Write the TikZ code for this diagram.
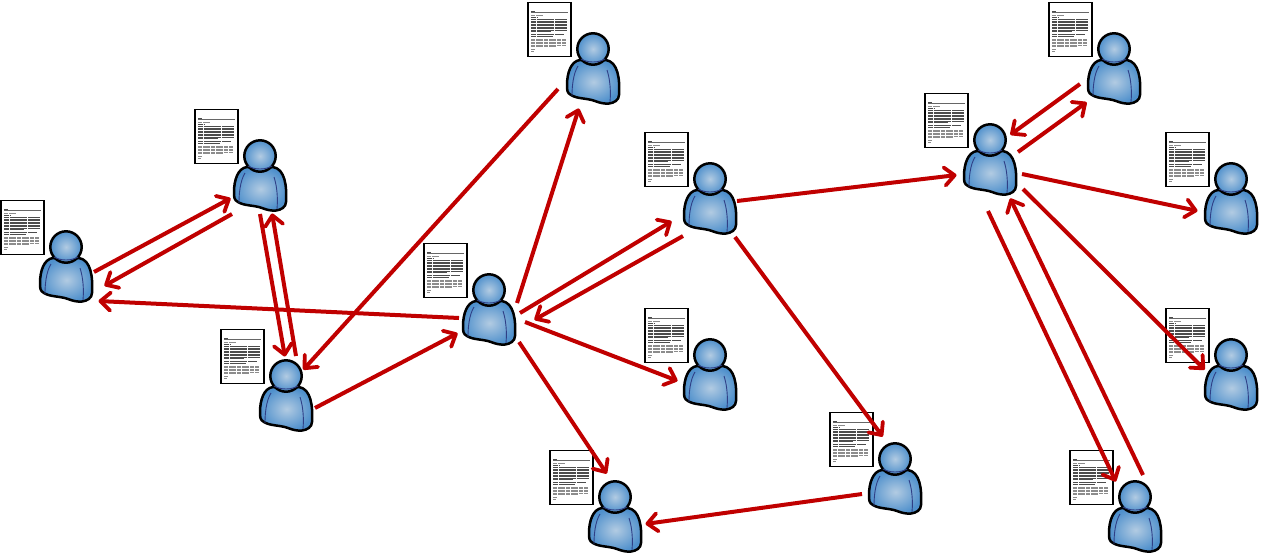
\documentclass[tikz,border=0pt]{standalone}
\usetikzlibrary{arrows.meta}
\definecolor{flowred}{HTML}{C00000}
\definecolor{skin}{HTML}{B2CBE2}
\definecolor{skinout}{HTML}{4F90CC}
\definecolor{seam}{HTML}{2F3F86}
\tikzset{
  flow/.style={draw=flowred,line width=4pt,-{Straight Barb[length=10pt,width=18pt,line width=3.8pt,round]},shorten >=.5pt},
  personbox/.style={inner sep=0pt,minimum size=1pt},
  paper/.style={draw=black,fill=white,line width=1.6pt},
  txt/.style={draw=black!70,line width=.95pt,dash pattern=on 5pt off .5pt on 9pt off .4pt on 3pt off .5pt},
  txtl/.style={draw=black!45,line width=.7pt,dash pattern=on 4pt off 1pt on 7pt off 1pt},
  outline/.style={draw=black,line width=2.5pt,line join=round},
  seamline/.style={draw=seam,line width=.9pt},
  person/.pic={
    % document
    \path[paper] (-65,-46.5) rectangle (-22,7.5);
    \draw[line width=.9pt,black!70] (-62,-38) -- (-58,-38);
    \draw[line width=.5pt,black!60] (-62,-36.5) -- (-25,-36.5);
    \draw[txtl] (-62,-33.5) -- (-50,-33.5);
    \draw[txt] (-62,-31.5) -- (-55,-31.5);
    \foreach \yy in {-29.5,-28,-26.5,-25,-23.5,-22,-20.5,-19}
      \draw[txt] (-62,\yy) -- (-26,\yy);
    \draw[txt] (-62,-17.5) -- (-42,-17.5);
    \draw[txt] (-62,-14.5) -- (-29,-14.5);
    \draw[txt] (-62,-13) -- (-40,-13);
    \foreach \yy in {-10,-8.5,-7,-5.5,-4}
      \draw[txtl] (-62,\yy) -- (-27,\yy);
    \draw[txtl] (-62,-2.5) -- (-37,-2.5);
    \draw[txtl] (-62,0) -- (-58,0);
    \draw[txtl] (-62,2) -- (-59,2);
    % body
    \path[outline,inner color=skin,outer color=skinout]
      (-13,11) .. controls (-22,12) and (-26,24) .. (-26,36)
      .. controls (-26,41) and (-26,44) .. (-22,46)
      .. controls (-16,50) and (-6,49) .. (2,52)
      .. controls (7,54) and (12,55) .. (16,54.5)
      .. controls (21,54) and (26,51) .. (26,46)
      .. controls (27,30) and (25,13) .. (13,11) -- cycle;
    \draw[seamline] (-15,17) .. controls (-20,25) and (-21,38) .. (-21,47);
    \draw[seamline] (14,21) .. controls (17,30) and (18,42) .. (17,53);
    % head
    \path[outline,inner color=skin,outer color=skinout] (0,0) circle (15.7);
    \draw[seamline] (-12,10) .. controls (-5,14) and (5,14) .. (12,10);
  }
}
\begin{document}
\begin{tikzpicture}[x=1pt,y=-1pt]
\useasboundingbox (0,0) rectangle (1261,555);
\foreach \n/\x/\y in {p1/66/247,p2/260/156,p3/286/376,p4/489/290,p5/593/49,p6/710/179,p7/710/355,p8/615/497,p9/895/459,p10/990/140,p11/1114/49,p12/1231/179,p13/1231/355,p14/1135/497}{
  \node[personbox] (\n) at (\x,\y) {};
  \pic at (\x,\y) {person};
}
\newcommand{\conn}[4]{\draw[flow] ([shift={(#2)}]#1.center) -- ([shift={(#4)}]#3.center);}
\conn{p1}{28,25}{p2}{-29,42}
\conn{p2}{-28,58}{p1}{38,39}
\conn{p2}{0,58}{p3}{-1,-19}
\conn{p3}{10,-20}{p2}{12,57}
\conn{p4}{-30,28}{p1}{32,54}
\conn{p3}{29,32}{p4}{-31,43}
\conn{p5}{-35,40}{p3}{17,-6}
\conn{p4}{28,13}{p5}{-14,59}
\conn{p4}{31,23}{p6}{-38,42}
\conn{p6}{-27,57}{p4}{45,30}
\conn{p4}{36,32}{p7}{-32,26}
\conn{p4}{30,52}{p8}{-8,-23}
\conn{p6}{25,58}{p9}{-12,-22}
\conn{p9}{-33,35}{p8}{30,27}
\conn{p6}{27,22}{p10}{-33,35}
\conn{p10}{28,12}{p11}{-27,53}
\conn{p11}{-34,35}{p10}{20,-5}
\conn{p10}{32,34}{p12}{-33,32}
\conn{p10}{33,49}{p13}{-26,15}
\conn{p10}{-2,71}{p14}{-19,-15}
\conn{p14}{8,-22}{p10}{20,58}
\end{tikzpicture}
\end{document}
